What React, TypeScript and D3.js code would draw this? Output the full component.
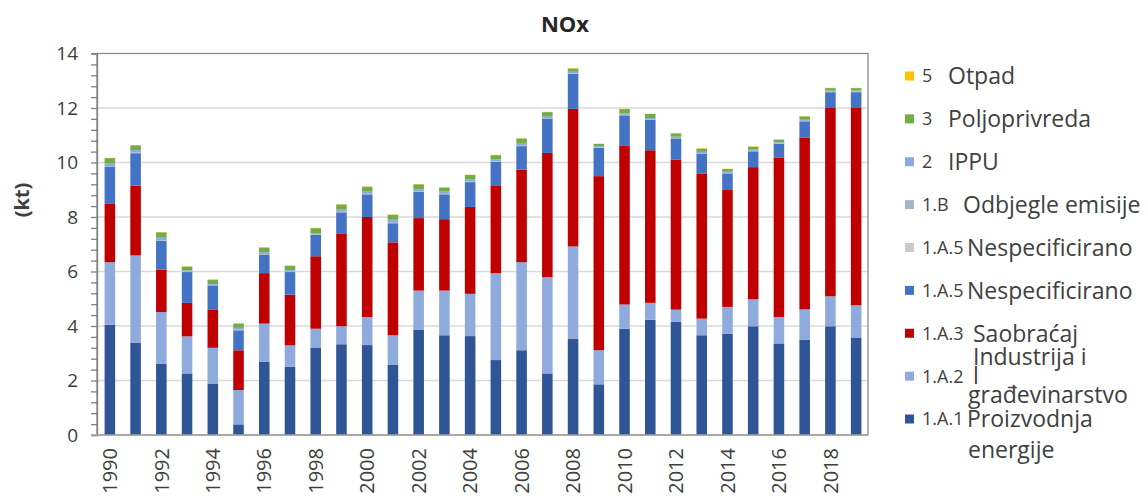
import React, { useEffect, useRef } from 'react'
import * as d3 from 'd3'

// values in kt
const years = ['1990','1991','1992','1993','1994','1995','1996','1997','1998','1999','2000','2001','2002','2003','2004','2005','2006','2007','2008','2009','2010','2011','2012','2013','2014','2015','2016','2017','2018','2019']
const energetika = [4.05,3.39,2.62,2.26,1.89,0.39,2.68,2.5,3.21,3.33,3.3,2.57,3.87,3.66,3.63,2.75,3.11,2.26,3.54,1.86,3.9,4.23,4.15,3.66,3.72,3.99,3.36,3.5,3.99,3.58]
const industrija = [2.29,3.2,1.89,1.36,1.31,1.26,1.41,0.79,0.69,0.66,1.03,1.09,1.43,1.64,1.55,3.19,3.23,3.53,3.38,1.25,0.89,0.62,0.45,0.61,0.98,0.99,0.97,1.11,1.1,1.18]
const saobracaj = [2.14,2.56,1.56,1.23,1.41,1.46,1.85,1.86,2.66,3.41,3.67,3.41,2.66,2.62,3.19,3.2,3.4,4.56,5.05,6.39,5.84,5.6,5.51,5.33,4.29,4.85,5.84,6.31,6.91,7.24]
const nespecBlue = [1.37,1.19,1.06,1.13,0.88,0.73,0.68,0.83,0.78,0.77,0.83,0.7,0.96,0.91,0.91,0.88,0.86,1.26,1.28,1.04,1.1,1.12,0.77,0.73,0.61,0.58,0.51,0.59,0.58,0.58]
const nespecGrey = [0,0,0,0,0,0,0,0,0,0,0,0,0,0,0,0,0,0,0,0,0,0,0,0,0,0,0,0,0,0]
const odbjegle = [0.02,0.02,0.02,0.02,0.02,0.02,0.02,0.02,0.02,0.02,0.02,0.02,0.02,0.02,0.02,0.02,0.02,0.02,0.02,0.02,0.02,0.02,0.02,0.02,0.02,0.02,0.02,0.02,0.02,0.02]
const ippu = [0.11,0.1,0.09,0.04,0.03,0.07,0.07,0.05,0.05,0.08,0.08,0.11,0.07,0.08,0.08,0.08,0.07,0.07,0.06,0.04,0.06,0.04,0.05,0.04,0.04,0.04,0.04,0.04,0.04,0.04]
const poljoprivreda = [0.18,0.17,0.2,0.14,0.16,0.16,0.17,0.16,0.18,0.19,0.18,0.18,0.19,0.15,0.16,0.15,0.19,0.15,0.12,0.08,0.15,0.15,0.12,0.12,0.1,0.11,0.1,0.12,0.09,0.09]
const otpad = [0.01,0.01,0.01,0.01,0.01,0.01,0.01,0.01,0.01,0.01,0.01,0.01,0.01,0.01,0.01,0.01,0.01,0.01,0.01,0.01,0.01,0.01,0.01,0.01,0.01,0.01,0.01,0.01,0.01,0.01]

const yTicks = [0,2,4,6,8,10,12,14]
const xTickYears = ['1990','1992','1994','1996','1998','2000','2002','2004','2006','2008','2010','2012','2014','2016','2018']

// stack order bottom -> top
const series = [
  { key: '1A1', values: energetika, color: '#2f5597' },
  { key: '1A2', values: industrija, color: '#8faadc' },
  { key: '1A3', values: saobracaj, color: '#c00000' },
  { key: '1A5b', values: nespecBlue, color: '#4472c4' },
  { key: '1A5g', values: nespecGrey, color: '#c9c9c9' },
  { key: '1B', values: odbjegle, color: '#a5b4cc' },
  { key: '2', values: ippu, color: '#8eaadb' },
  { key: '3', values: poljoprivreda, color: '#70ad47' },
  { key: '5', values: otpad, color: '#ffc000' },
]

// legend top -> bottom
const legendCodes = ['5','3','2','1.B','1.A.5','1.A.5','1.A.3','1.A.2','1.A.1']
const legendNames = [['Otpad'],['Poljoprivreda'],['IPPU'],['Odbjegle emisije'],['Nespecificirano'],['Nespecificirano'],['Saobraćaj'],['Industrija i','l','građevinarstvo'],['Proizvodnja','energije']]
const legendColors = ['#ffc000','#70ad47','#8eaadb','#a5b4cc','#c9c9c9','#4472c4','#c00000','#8faadc','#2f5597']

export default function App(){
  const svgRef = useRef<SVGSVGElement>(null)

  useEffect(()=>{
    const W = 1148, H = 500
    const m = { top: 53.5, right: 280, bottom: 65, left: 97 }
    const font = '"Open Sans", "DejaVu Sans", sans-serif'
    const txt = '#404040'
    const svg = d3.select(svgRef.current).attr('width', W).attr('height', H)
    svg.selectAll('*').remove()
    svg.append('rect').attr('width', W).attr('height', H).attr('fill', '#fff')

    const x = d3.scaleBand<string>().domain(years).range([m.left, W - m.right + 1]).paddingInner(0.59).paddingOuter(0.295)
    const y = d3.scaleLinear().domain([0, 14]).range([H - m.bottom, m.top])

    // gridlines
    svg.append('g').selectAll('line').data(yTicks.filter(t => t > 0 && t < 14)).join('line')
      .attr('x1', m.left).attr('x2', W - m.right)
      .attr('y1', d => y(d)).attr('y2', d => y(d))
      .attr('stroke', '#d9d9d9').attr('stroke-width', 1.5)

    // frame
    svg.append('rect').attr('x', m.left).attr('y', y(14)).attr('width', W - m.right - m.left).attr('height', y(0) - y(14))
      .attr('fill', 'none').attr('stroke', '#8c8c8c').attr('stroke-width', 1.3)

    // stacked bars
    const table = years.map((yr, i) => {
      const row: any = { year: yr }
      series.forEach(s => { row[s.key] = s.values[i] })
      return row
    })
    const stack = d3.stack().keys(series.map(s => s.key))(table)
    svg.append('g').selectAll('g').data(stack).join('g')
      .attr('fill', (_d, i) => series[i].color)
      .selectAll('rect').data(d => d).join('rect')
      .attr('x', d => x((d.data as any).year)!)
      .attr('width', x.bandwidth())
      .attr('y', d => y(d[1]))
      .attr('height', d => Math.max(0, y(d[0]) - y(d[1])))

    // left axis with minor ticks
    const yAxis = d3.axisLeft(y).tickValues(d3.range(0, 14.01, 0.4)).tickSize(6).tickFormat(() => '')
    const ya = svg.append('g').attr('transform', `translate(${m.left},0)`).call(yAxis)
    ya.selectAll('line,path').attr('stroke', '#7f7f7f').attr('stroke-width', 1.3)
    svg.append('g').selectAll('text').data(yTicks).join('text')
      .attr('x', m.left - 19).attr('y', d => y(d)).attr('dy', '0.36em')
      .attr('text-anchor', 'end').attr('font-family', font).attr('font-size', 19).attr('fill', txt)
      .text(d => d)

    // bottom baseline
    svg.append('line').attr('x1', m.left - 6).attr('x2', W - m.right).attr('y1', y(0)).attr('y2', y(0))
      .attr('stroke', '#a6a6a6').attr('stroke-width', 1.3)

    // x labels
    svg.append('g').selectAll('text').data(xTickYears).join('text')
      .attr('transform', d => `translate(${x(d)! + x.bandwidth() / 2},${y(0) + 13}) rotate(-90)`)
      .attr('dy', '0.36em').attr('text-anchor', 'end')
      .attr('font-family', font).attr('font-size', 20).attr('fill', txt)
      .text(d => d)

    // title
    svg.append('text').attr('x', 565).attr('y', 32).attr('text-anchor', 'middle')
      .attr('font-family', font).attr('font-size', 22).attr('font-weight', 'bold').attr('fill', '#262626')
      .text('NOx')

    // y label
    svg.append('text').attr('transform', 'translate(29,200) rotate(-90)').attr('text-anchor', 'middle')
      .attr('font-family', font).attr('font-size', 20).attr('font-weight', 'bold').attr('fill', txt)
      .text('(kt)')

    // legend
    const ly = d3.scalePoint<number>().domain(d3.range(legendCodes.length)).range([76, 419])
    const lg = svg.append('g').attr('font-family', font).attr('fill', txt)
    legendCodes.forEach((code, i) => {
      const cy = ly(i)!
      lg.append('rect').attr('x', 905).attr('y', cy - 4.5).attr('width', 9).attr('height', 9).attr('fill', legendColors[i])
      lg.append('text').attr('x', 922).attr('y', cy).attr('dy', '0.36em').attr('font-size', 18).attr('fill', txt).text(code)
      const gap = code.length <= 3 ? 25 : (code === '1.A.3' || code === '1.A.2') ? 51 : 45
      const nx = code.length <= 3 ? (code === '1.B' ? 963 : 948) : 922 + gap
      const names = legendNames[i]
      const offs = names.length === 3 ? [-19, 0, 19] : names.length === 2 ? [0, 31] : [0]
      names.forEach((nm, j) => {
        lg.append('text').attr('x', nm === 'građevinarstvo' ? nx - 5 : nx + (nm === 'energije' ? 1 : 0))
          .attr('y', cy + offs[j]).attr('dy', '0.36em').attr('font-size', 23).attr('fill', txt).text(nm)
      })
    })
  }, [])

  return (
    <div style={{ position: 'absolute', left: 0, top: 0 }}>
      <svg ref={svgRef}></svg>
    </div>
  )
}
